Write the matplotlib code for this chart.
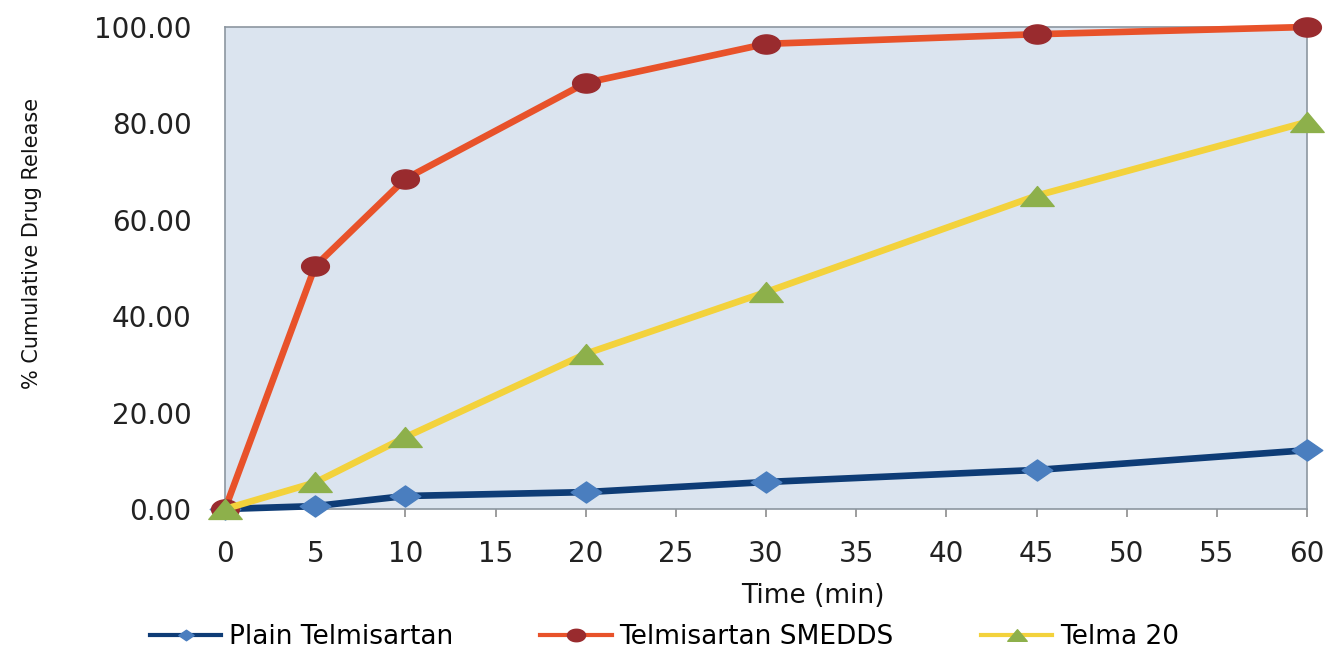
import matplotlib
matplotlib.use('Agg')
import matplotlib.pyplot as plt
import numpy as np
from matplotlib.path import Path
from matplotlib.lines import Line2D

plt.rcParams['font.family'] = ['DejaVu Sans']

# Dissolution data (time in minutes, % cumulative release)
time_min = [0, 5, 10, 20, 30, 45, 60]
plain = [0.0, 0.6, 2.7, 3.5, 5.6, 8.1, 12.2]
smedds = [0.0, 50.4, 68.5, 88.4, 96.5, 98.5, 100.0]
telma = [0.0, 5.5, 14.9, 32.2, 45.0, 65.0, 80.3]

series_names = ['Plain Telmisartan', 'Telmisartan SMEDDS', 'Telma 20']
line_colors = ['#0E3C76', '#E8522A', '#F3D23C']
marker_colors = ['#4A7EBF', '#992B2E', '#8DB04B']

x_ticks = list(range(0, 61, 5))
y_ticks = [0, 20, 40, 60, 80, 100]

# wide markers (the chart is drawn with a horizontal stretch)
stretch = 1.45
t = np.linspace(0, 2 * np.pi, 60)
ellipse = Path(np.column_stack([stretch * np.cos(t), np.sin(t)]), closed=True)
diamond = Path([(0, 1), (stretch, 0), (0, -1), (-stretch, 0), (0, 1)],
               closed=True)
triangle = Path([(-stretch, -0.866), (stretch, -0.866), (0, 0.866),
                 (-stretch, -0.866)], closed=True)
marker_shapes = [diamond, ellipse, triangle]
marker_sizes = [22, 20, 24]
legend_marker_sizes = [11, 13, 14]

fig = plt.figure(figsize=(13.3, 6.55), dpi=100, facecolor='white')
ax = fig.add_axes([0.1692, 0.2229, 0.8135, 0.7359])
ax.set_facecolor('#DBE4EF')

ax.set_xlim(0, 60)
ax.set_ylim(0, 100)

handles = []
for vals, name, lc, mc, mk, ms, lms in zip(
        [plain, smedds, telma], series_names, line_colors, marker_colors,
        marker_shapes, marker_sizes, legend_marker_sizes):
    ax.plot(time_min, vals, color=lc, linewidth=4.8, marker=mk,
            markersize=ms, markerfacecolor=mc, markeredgecolor=mc,
            solid_joinstyle='round', clip_on=False, zorder=3)
    handles.append(Line2D([], [], color=lc, linewidth=3, marker=mk,
                          markersize=lms, markerfacecolor=mc,
                          markeredgecolor=mc, label=name))

ax.set_xticks(x_ticks)
ax.set_yticks(y_ticks)
ax.set_yticklabels([f'{v:.2f}' for v in y_ticks])
ax.tick_params(axis='x', length=6, width=1.2, color='#8C8C8C',
               labelsize=20, pad=16, labelcolor='#222222')
ax.tick_params(axis='y', length=0, labelsize=20, pad=24,
               labelcolor='#222222')

for side in ['left', 'right', 'top', 'bottom']:
    ax.spines[side].set_color('#8C96A0')
    ax.spines[side].set_linewidth(1.2)

ax.set_xlabel('Time (min)', fontsize=19, color='#111111', va='center')
ax.xaxis.set_label_coords(0.543, -0.180)
ax.set_ylabel('% Cumulative Drug Release', fontsize=15, color='#111111',
              va='center')
ax.yaxis.set_label_coords(-0.178, 0.55)

fig.legend(handles=handles, loc='center', ncol=3, frameon=False,
           fontsize=19, handlelength=2.7, handletextpad=0.3,
           columnspacing=3.3, bbox_to_anchor=(0.4996, 0.0275))

fig.savefig('out.png', dpi=100, facecolor='white')
